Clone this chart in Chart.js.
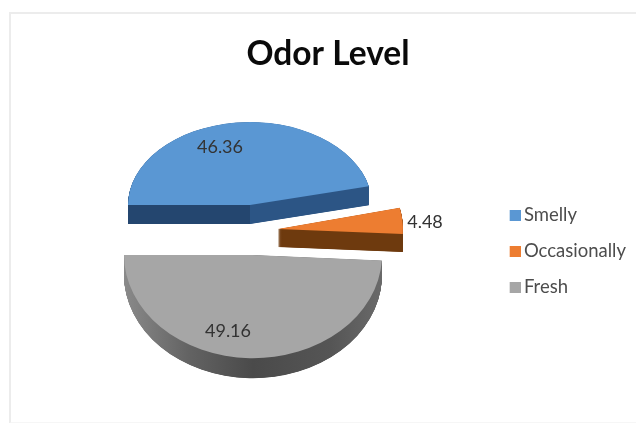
<!DOCTYPE html>
<html>
<head>
<meta charset="utf-8">
<style>
  html, body { margin: 0; padding: 0; background: #fff; }
  #wrap { position: relative; width: 636px; height: 423px; overflow: hidden; }
  #frame { position: absolute; left: 9px; top: 12px; width: 640px; height: 408px; border: 2px solid #ececec; border-right: none; border-bottom-color: #f6f6f6; }
  canvas { position: absolute; left: 0; top: 0; filter: blur(0.45px); }
</style>
<script src="https://cdn.jsdelivr.net/npm/chart.js@4/dist/chart.umd.min.js"></script>
</head>
<body>
<div id="wrap">
  <div id="frame"></div>
  <canvas id="odor" width="636" height="423"></canvas>
</div>
<script>
const categories = ['Smelly', 'Occasionally', 'Fresh'];
const odorValues = [46.36, 4.48, 49.16];
const sliceColors = ['#5a97d3', '#ed7d31', '#a6a6a6'];

// where each exploded slice sits, the reference has perspective so radius and squash differ
const apexX = [250, 278, 253];
const apexY = [205, 229, 255];
const radius = [122, 125, 129];
const squash = [0.68, 0.75, 0.8];
const depth = [19, 18, 20];
const wallStops = [
    [[0, '#24466f'], [0.5, '#24466f'], [0.5, '#2c5585'], [1, '#2c5585']],
    [[0, '#6e3a0e'], [1, '#6e3a0e']],
    [[0, '#8a8a8a'], [0.25, '#636363'], [0.5, '#4a4a4a'], [0.8, '#555555'], [1, '#6a6a6a']]
];
const labelX = [220, 425, 228];
const labelY = [147, 222, 331];

function paintSlice(ctx, arc, i, color, dy) {
    const k = radius[i] / arc.outerRadius;
    ctx.save();
    ctx.translate(apexX[i], apexY[i] + dy);
    ctx.scale(k, k * squash[i]);
    ctx.translate(-arc.x, -arc.y);
    const shim = Object.create(arc);
    shim.options = Object.assign({}, arc.options, { backgroundColor: color });
    Object.getPrototypeOf(arc).draw.call(shim, ctx);
    ctx.restore();
}

const tiltedPie = {
    id: 'tiltedPie',
    beforeDatasetsDraw(chart) {
        const ctx = chart.ctx;
        const arcs = chart.getDatasetMeta(0).data;
        arcs.forEach((arc, i) => {
            const R = arc.outerRadius;
            const grad = ctx.createLinearGradient(arc.x - R, 0, arc.x + R, 0);
            wallStops[i].forEach(s => grad.addColorStop(s[0], s[1]));
            // small steps, the thin wedge tip leaves stripes otherwise
            for (let d = depth[i]; d > 0; d -= 0.25) {
                paintSlice(ctx, arc, i, grad, d);
            }
            paintSlice(ctx, arc, i, sliceColors[i], 0);
        });
        ctx.save();
        ctx.font = '18px Lato';
        ctx.fillStyle = '#333333';
        ctx.textAlign = 'center';
        ctx.textBaseline = 'middle';
        odorValues.forEach((v, i) => ctx.fillText(v.toFixed(2), labelX[i], labelY[i]));
        ctx.restore();
        return false;
    }
};

// legend swatch sits closer to the text than chart.js allows, so it is a small offset canvas
function swatch(color) {
    const c = document.createElement('canvas');
    c.width = 17;
    c.height = 11;
    const g = c.getContext('2d');
    g.fillStyle = color;
    g.fillRect(6, 0, 11, 11);
    return c;
}

new Chart(document.getElementById('odor'), {
    type: 'pie',
    data: {
        labels: categories,
        datasets: [{
            data: odorValues,
            backgroundColor: sliceColors,
            borderWidth: 0
        }]
    },
    options: {
        responsive: false,
        animation: false,
        rotation: 270,
        layout: { padding: { left: 20, top: 34, right: 0, bottom: -45 } },
        plugins: {
            tooltip: { enabled: false },
            title: {
                display: true,
                text: 'Odor Level',
                color: '#0a0a0a',
                font: { family: 'Lato', size: 33.5, weight: 'bold' },
                padding: { top: 0, bottom: 10 }
            },
            legend: {
                position: 'right',
                labels: {
                    usePointStyle: true,
                    boxWidth: 5,
                    boxHeight: 11,
                    padding: 17.5,
                    color: '#4d4d4d',
                    font: { family: 'Lato', size: 18.5 },
                    generateLabels() {
                        return categories.map((text, i) => ({
                            text,
                            index: i,
                            fontColor: '#4d4d4d',
                            fillStyle: sliceColors[i],
                            lineWidth: 0,
                            pointStyle: swatch(sliceColors[i])
                        }));
                    }
                }
            }
        }
    },
    plugins: [tiltedPie]
});
</script>
</body>
</html>
